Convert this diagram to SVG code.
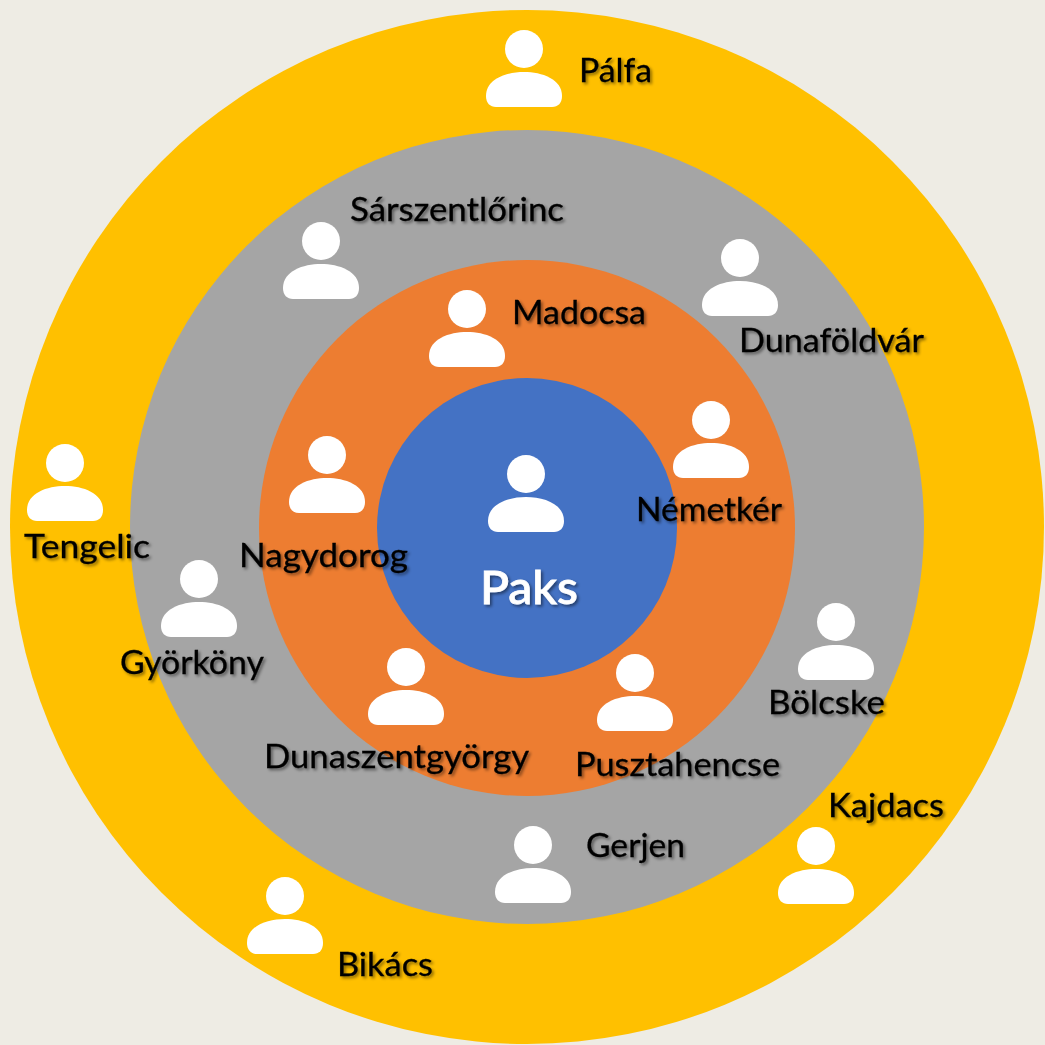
<svg xmlns="http://www.w3.org/2000/svg" width="1045" height="1045" viewBox="0 0 1045 1045">
<style>
text{font-family:Lato,"Open Sans","Liberation Sans",sans-serif;font-size:32px;fill:#000;stroke:#000;stroke-width:.3;filter:url(#sh)}
text.c{font-size:46px;font-weight:500;fill:#fff;stroke:#fff;stroke-width:.8}
.i{fill:#fff}
</style>
<defs>
<filter id="sh" x="-10%" y="-20%" width="125%" height="150%"><feDropShadow dx="2" dy="2" stdDeviation="1.5" flood-color="#000" flood-opacity=".45"/></filter>
<symbol id="p" overflow="visible"><circle class="i" cx="0" cy="0" r="19"/><path class="i" d="M-38 47C-38 30-18 23 0 23S38 30 38 47C38 54 34 58 28 58H-28C-34 58-38 54-38 47Z"/></symbol>
</defs>
<rect width="1045" height="1045" fill="#eeece4"/>
<g id="rings">
<circle cx="527" cy="527" r="517" fill="#ffc000"/>
<circle cx="527" cy="527" r="397" fill="#a5a5a5"/>
<circle cx="527" cy="528" r="268" fill="#ed7d31"/>
<circle cx="527" cy="528" r="150" fill="#4472c4"/>
</g>
<g id="connectors"/>
<g id="paks"><use href="#p" x="526" y="474"/><text class="c" x="480" y="604" textLength="98" lengthAdjust="spacingAndGlyphs">Paks</text></g>
<g id="palfa"><use href="#p" x="524" y="49"/><text x="579" y="82" textLength="73" lengthAdjust="spacingAndGlyphs">Pálfa</text></g>
<g id="sarszentlorinc"><use href="#p" x="321" y="241"/><text x="350" y="221" textLength="214" lengthAdjust="spacingAndGlyphs">Sárszentlőrinc</text></g>
<g id="dunafoldvar"><use href="#p" x="740" y="258"/><text x="739" y="352" textLength="185" lengthAdjust="spacingAndGlyphs">Dunaföldvár</text></g>
<g id="madocsa"><use href="#p" x="467" y="309"/><text x="512" y="324" textLength="134" lengthAdjust="spacingAndGlyphs">Madocsa</text></g>
<g id="nemetker"><use href="#p" x="711" y="420"/><text x="636" y="521" textLength="146" lengthAdjust="spacingAndGlyphs">Németkér</text></g>
<g id="nagydorog"><use href="#p" x="327" y="455"/><text x="239" y="567" textLength="169" lengthAdjust="spacingAndGlyphs">Nagydorog</text></g>
<g id="tengelic"><use href="#p" x="65" y="463"/><text x="24" y="558" textLength="126" lengthAdjust="spacingAndGlyphs">Tengelic</text></g>
<g id="gyorkony"><use href="#p" x="199" y="579"/><text x="120" y="674" textLength="144" lengthAdjust="spacingAndGlyphs">Györköny</text></g>
<g id="bolcske"><use href="#p" x="836" y="622"/><text x="768" y="714" textLength="117" lengthAdjust="spacingAndGlyphs">Bölcske</text></g>
<g id="dunaszentgyorgy"><use href="#p" x="406" y="667"/><text x="264" y="768" textLength="265" lengthAdjust="spacingAndGlyphs">Dunaszentgyörgy</text></g>
<g id="pusztahencse"><use href="#p" x="635" y="673"/><text x="575" y="776" textLength="205" lengthAdjust="spacingAndGlyphs">Pusztahencse</text></g>
<g id="gerjen"><use href="#p" x="533" y="845"/><text x="586" y="857" textLength="99" lengthAdjust="spacingAndGlyphs">Gerjen</text></g>
<g id="kajdacs"><use href="#p" x="816" y="846"/><text x="828" y="817" textLength="116" lengthAdjust="spacingAndGlyphs">Kajdacs</text></g>
<g id="bikacs"><use href="#p" x="285" y="896"/><text x="337" y="976" textLength="96" lengthAdjust="spacingAndGlyphs">Bikács</text></g>
</svg>
